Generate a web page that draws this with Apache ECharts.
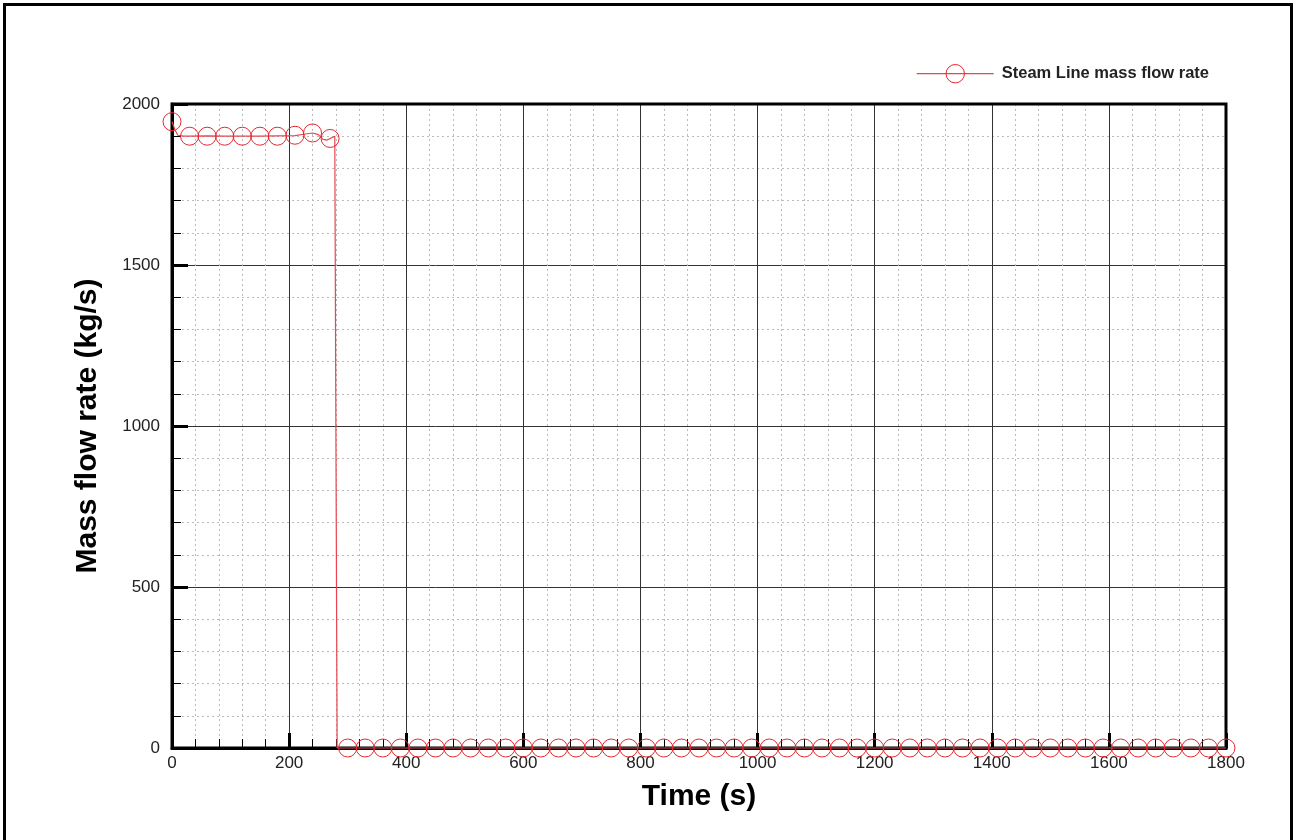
<!DOCTYPE html>
<html>
<head>
<meta charset="utf-8">
<script src="https://cdn.jsdelivr.net/npm/echarts@6/dist/echarts.min.js"></script>
<style>
html,body{margin:0;padding:0;background:#fff;}
#chart{width:1296px;height:840px;}
</style>
</head>
<body>
<div id="chart"></div>
<script>
// Continuous trace (time s, mass flow kg/s)
const lineTimes = [0, 5, 10, 20, 60, 120, 180, 210, 225, 240, 250, 258, 265, 272, 278, 280, 282, 290, 1800];
const lineFlows = [1945, 1920, 1903, 1900, 1901, 1900, 1901, 1902, 1906, 1910, 1905, 1890, 1888, 1893, 1900, 1898, 0, 0, 0];

// Marker samples (every 30 s)
const markerTimes = [0, 30, 60, 90, 120, 150, 180, 210, 240, 270,
  300, 330, 360, 390, 420, 450, 480, 510, 540, 570, 600, 630, 660, 690, 720, 750, 780, 810, 840, 870,
  900, 930, 960, 990, 1020, 1050, 1080, 1110, 1140, 1170, 1200, 1230, 1260, 1290, 1320, 1350, 1380, 1410,
  1440, 1470, 1500, 1530, 1560, 1590, 1620, 1650, 1680, 1710, 1740, 1770, 1800];
const markerFlows = [1945, 1900, 1900, 1900, 1900, 1900, 1900, 1903, 1910, 1893,
  0, 0, 0, 0, 0, 0, 0, 0, 0, 0, 0, 0, 0, 0, 0, 0, 0, 0, 0, 0,
  0, 0, 0, 0, 0, 0, 0, 0, 0, 0, 0, 0, 0, 0, 0, 0, 0, 0,
  0, 0, 0, 0, 0, 0, 0, 0, 0, 0, 0, 0, 0];

const seriesName = 'Steam Line mass flow rate';
const xTitle = 'Time (s)';
const yTitle = 'Mass flow rate (kg/s)';

// merge line and marker points into one line series
const pts = [];
lineTimes.forEach((t, i) => pts.push({t: t, v: lineFlows[i], m: false}));
markerTimes.forEach((t, i) => pts.push({t: t, v: markerFlows[i], m: true}));
pts.sort((a, b) => a.t - b.t || (a.m ? 1 : -1));
const data = pts.map(p => p.m ? {value: [p.t, p.v]} : {value: [p.t, p.v], symbol: 'none'});

const RED = '#e3282f';
const LINE_RED = '#e8454d';
const chart = echarts.init(document.getElementById('chart'), null, {renderer: 'canvas'});
const font = 'Liberation Sans, Arial, sans-serif';
chart.setOption({
  animation: false,
  backgroundColor: '#fff',
  graphic: [{
    type: 'rect', shape: {x: 4.5, y: 4.5, width: 1287, height: 860},
    style: {fill: 'none', stroke: '#000', lineWidth: 3}, silent: true, z: 100
  }],
  legend: {
    top: 59, right: 82, itemWidth: 77, itemHeight: 23, itemGap: 10,
    textStyle: {fontFamily: font, fontSize: 16.5, fontWeight: 'bold', color: '#222', padding: [0, 0, 0, 3]},
    itemStyle: {color: 'rgba(0,0,0,0)', borderColor: RED, borderWidth: 1},
    lineStyle: {color: LINE_RED, width: 1.2},
    data: [{name: seriesName}]
  },
  grid: {left: 172, right: 70, top: 104, bottom: 92, show: true, borderColor: '#000', borderWidth: 3, z: 3},
  xAxis: {
    type: 'value', min: 0, max: 1800, interval: 200,
    name: xTitle, nameLocation: 'middle', nameGap: 34,
    nameTextStyle: {fontFamily: font, fontSize: 30, fontWeight: 'bold', color: '#000'},
    axisLine: {show: true, onZero: false, lineStyle: {color: '#000', width: 3}},
    axisTick: {show: true, inside: true, length: 15, lineStyle: {color: '#000', width: 3}},
    minorTick: {show: true, splitNumber: 5, length: 9, lineStyle: {color: '#000', width: 1}},
    axisLabel: {fontFamily: font, fontSize: 17, color: '#222', margin: 7, formatter: v => String(v)},
    splitLine: {show: true, lineStyle: {color: '#333', width: 1}},
    minorSplitLine: {show: true, lineStyle: {color: '#bbb', width: 1, type: [2, 3]}}
  },
  yAxis: {
    type: 'value', min: 0, max: 2000, interval: 500,
    name: yTitle, nameLocation: 'middle', nameGap: 69, nameRotate: 90,
    nameTextStyle: {fontFamily: font, fontSize: 30, fontWeight: 'bold', color: '#000'},
    axisLine: {show: true, onZero: false, lineStyle: {color: '#000', width: 3}},
    axisTick: {show: true, inside: true, length: 16, lineStyle: {color: '#000', width: 3}},
    minorTick: {show: true, splitNumber: 5, length: 9, lineStyle: {color: '#000', width: 1}},
    axisLabel: {fontFamily: font, fontSize: 17, color: '#222', margin: 12, formatter: v => String(v)},
    splitLine: {show: true, lineStyle: {color: '#333', width: 1}},
    minorSplitLine: {show: true, lineStyle: {color: '#bbb', width: 1, type: [2, 3]}}
  },
  series: [{
    name: seriesName, type: 'line', data: data,
    symbol: 'circle', symbolSize: 18, showAllSymbol: true, clip: false,
    lineStyle: {color: LINE_RED, width: 1.2},
    itemStyle: {color: 'rgba(0,0,0,0)', borderColor: RED, borderWidth: 1},
    z: 5
  }]
});
</script>
</body>
</html>
